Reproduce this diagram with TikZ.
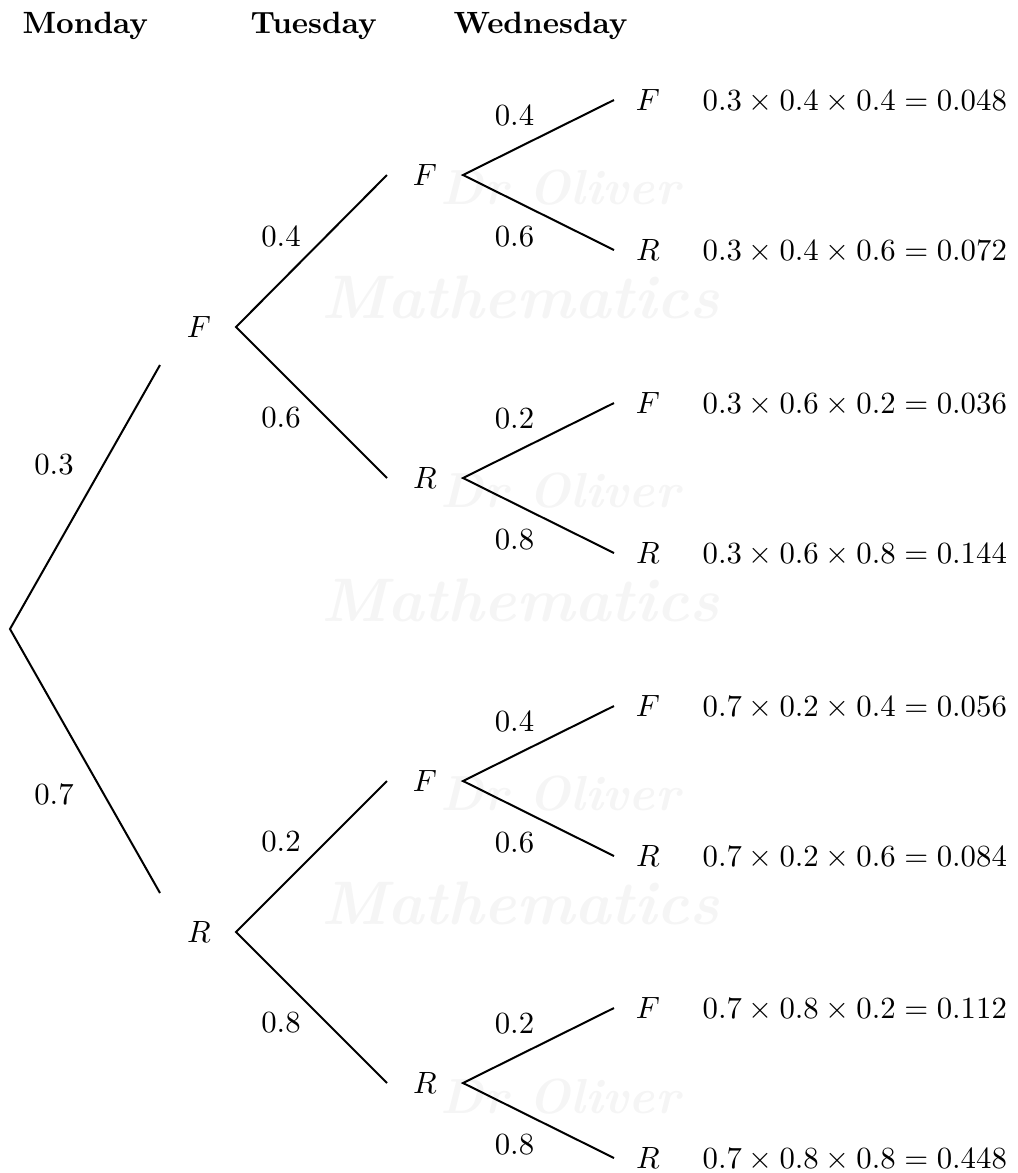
\documentclass[tikz,border=0pt]{standalone}
\begin{document}
\begin{tikzpicture}[x=0.325pt,y=-0.325pt,
  branch/.style={line width=0.65pt},
  state/.style={inner sep=0pt},
  prob/.style={inner sep=0pt},
  prod/.style={inner sep=0pt,anchor=base west},
  head/.style={inner sep=0pt,anchor=base west,font=\bfseries},
  wm/.style={inner sep=0pt,text=black!4,font=\fontsize{20}{20}\selectfont\bfseries\itshape},
  wmb/.style={inner sep=0pt,text=black!4,font=\fontsize{16}{16}\selectfont\bfseries\itshape}]
\useasboundingbox (0,0) rectangle (1017,1173);
% watermark
\node[wmb] (wmB1) at (560,188) {Dr Oliver};
\node[wm] (wmA1) at (520,297) {Mathematics};
\node[wmb] (wmB2) at (560,491) {Dr Oliver};
\node[wm] (wmA2) at (520,600) {Mathematics};
\node[wmb] (wmB3) at (560,794) {Dr Oliver};
\node[wm] (wmA3) at (520,903) {Mathematics};
\node[wmb] (wmB4) at (560,1097) {Dr Oliver};
% headers
\node[head] (hMon) at (22,33) {Monday};
\node[head] (hTue) at (250,33) {Tuesday};
\node[head] (hWed) at (453,33) {Wednesday};
% root and level 1
\coordinate (r0) at (10,629);
\coordinate (eF) at (160,365);
\coordinate (eR) at (160,893);
\node[state] (F) at (199,327) {$F$};
\node[state] (R) at (199,932) {$R$};
\draw[branch] (eF) -- (r0) -- (eR);
\node[prob] (p03) at (54,465) {$0.3$};
\node[prob] (p07) at (54,795) {$0.7$};
% level 2
\coordinate (vF) at (236,327);
\coordinate (vR) at (236,932);
\coordinate (eFF) at (387,175);
\coordinate (eFR) at (387,478);
\coordinate (eRF) at (387,781);
\coordinate (eRR) at (387,1083);
\draw[branch] (eFF) -- (vF) -- (eFR);
\draw[branch] (eRF) -- (vR) -- (eRR);
\node[state] (FF) at (425,175) {$F$};
\node[state] (FR) at (425,478) {$R$};
\node[state] (RF) at (425,781) {$F$};
\node[state] (RR) at (425,1083) {$R$};
\node[prob] (pFF) at (281,237) {$0.4$};
\node[prob] (pFR) at (281,418) {$0.6$};
\node[prob] (pRF) at (281,842) {$0.2$};
\node[prob] (pRR) at (281,1023) {$0.8$};
% level 3
\foreach \n/\y/\pa/\pb/\la/\lb/\ta/\tb in {
  FF/175/0.4/0.6/F/R/{0.3 \times 0.4 \times 0.4 = 0.048}/{0.3 \times 0.4 \times 0.6 = 0.072},
  FR/478/0.2/0.8/F/R/{0.3 \times 0.6 \times 0.2 = 0.036}/{0.3 \times 0.6 \times 0.8 = 0.144},
  RF/781/0.4/0.6/F/R/{0.7 \times 0.2 \times 0.4 = 0.056}/{0.7 \times 0.2 \times 0.6 = 0.084},
  RR/1083/0.2/0.8/F/R/{0.7 \times 0.8 \times 0.2 = 0.112}/{0.7 \times 0.8 \times 0.8 = 0.448}}{
  \coordinate (v\n) at (463,\y);
  \coordinate (e\n F) at (614,\y-75);
  \coordinate (e\n R) at (614,\y+75);
  \draw[branch] (e\n F) -- (v\n) -- (e\n R);
  \node[prob] (p\n F) at (514.5,\y-59) {$\pa$};
  \node[prob] (p\n R) at (514.5,\y+62) {$\pb$};
  \node[state] (\n F) at (648,\y-75) {$\la$};
  \node[state] (\n R) at (648,\y+75) {$\lb$};
  \node[prod] (t\n F) at (702,\y-65) {$\ta$};
  \node[prod] (t\n R) at (702,\y+85) {$\tb$};
}
\end{tikzpicture}
\end{document}
